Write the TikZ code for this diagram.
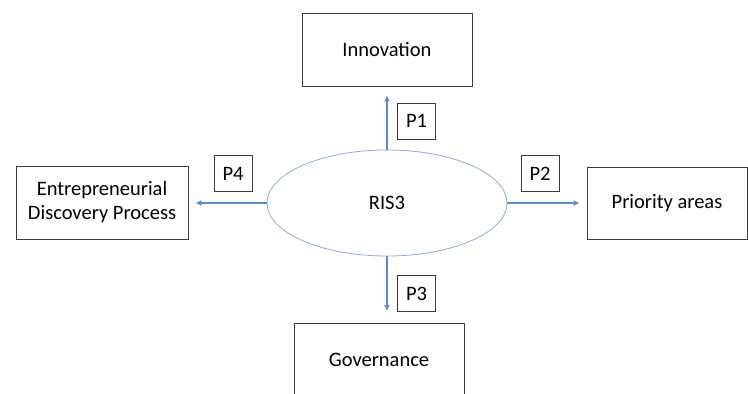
\documentclass[tikz,border=0pt]{standalone}
\usepackage{fontspec}
\setmainfont{Carlito}
\usetikzlibrary{shapes.geometric,arrows.meta}
\definecolor{arrowblue}{RGB}{91,138,205}
\definecolor{ringblue}{RGB}{140,172,215}
\definecolor{boxgray}{RGB}{60,60,60}
\tikzset{
  box/.style={draw=boxgray, line width=0.9pt, minimum width=170, minimum height=73,
    inner sep=0pt, align=center, font=\fontsize{20.5}{24}\selectfont},
  tag/.style={draw=boxgray, line width=0.9pt, minimum width=38, minimum height=36,
    inner sep=0pt, font=\fontsize{20.5}{24}\selectfont},
  link/.style={arrowblue, line width=1.6pt, -{Latex[length=6pt,width=6pt]}}
}
\begin{document}
\begin{tikzpicture}[x=1pt,y=-1pt]
\clip (0,0) rectangle (748,394);
% RIS3 in the middle, four pillars round it
\node[draw=ringblue, line width=0.8pt, ellipse, minimum width=240, minimum height=106,
  inner sep=0pt, font=\fontsize{20.5}{24}\selectfont] (ris) at (387,203) {RIS3};
\node[box] (innov) at (387,49.5) {Innovation};
\node[box, minimum width=172] (edp) at (102,202.5) {Entrepreneurial\\Discovery Process};
\node[box, minimum width=160, minimum height=72] (prio) at (667,203) {Priority areas};
\node[box] (gov) at (379,360) {Governance};
\node[tag] (p1) at (416.5,121) {P1};
\node[tag] (p2) at (540,173.5) {P2};
\node[tag] (p3) at (416.5,293.5) {P3};
\node[tag] (p4) at (233,173.5) {P4};
\draw[link, shorten >=9pt] (ris.north) -- (innov.south);
\draw[link, shorten >=7pt] (ris.east) -- (prio.west |- ris.east);
\draw[link, shorten >=12pt] (ris.south) -- (gov.north -| ris.south);
\draw[link, shorten >=7pt] (ris.west) -- (edp.east |- ris.west);
\end{tikzpicture}
\end{document}
